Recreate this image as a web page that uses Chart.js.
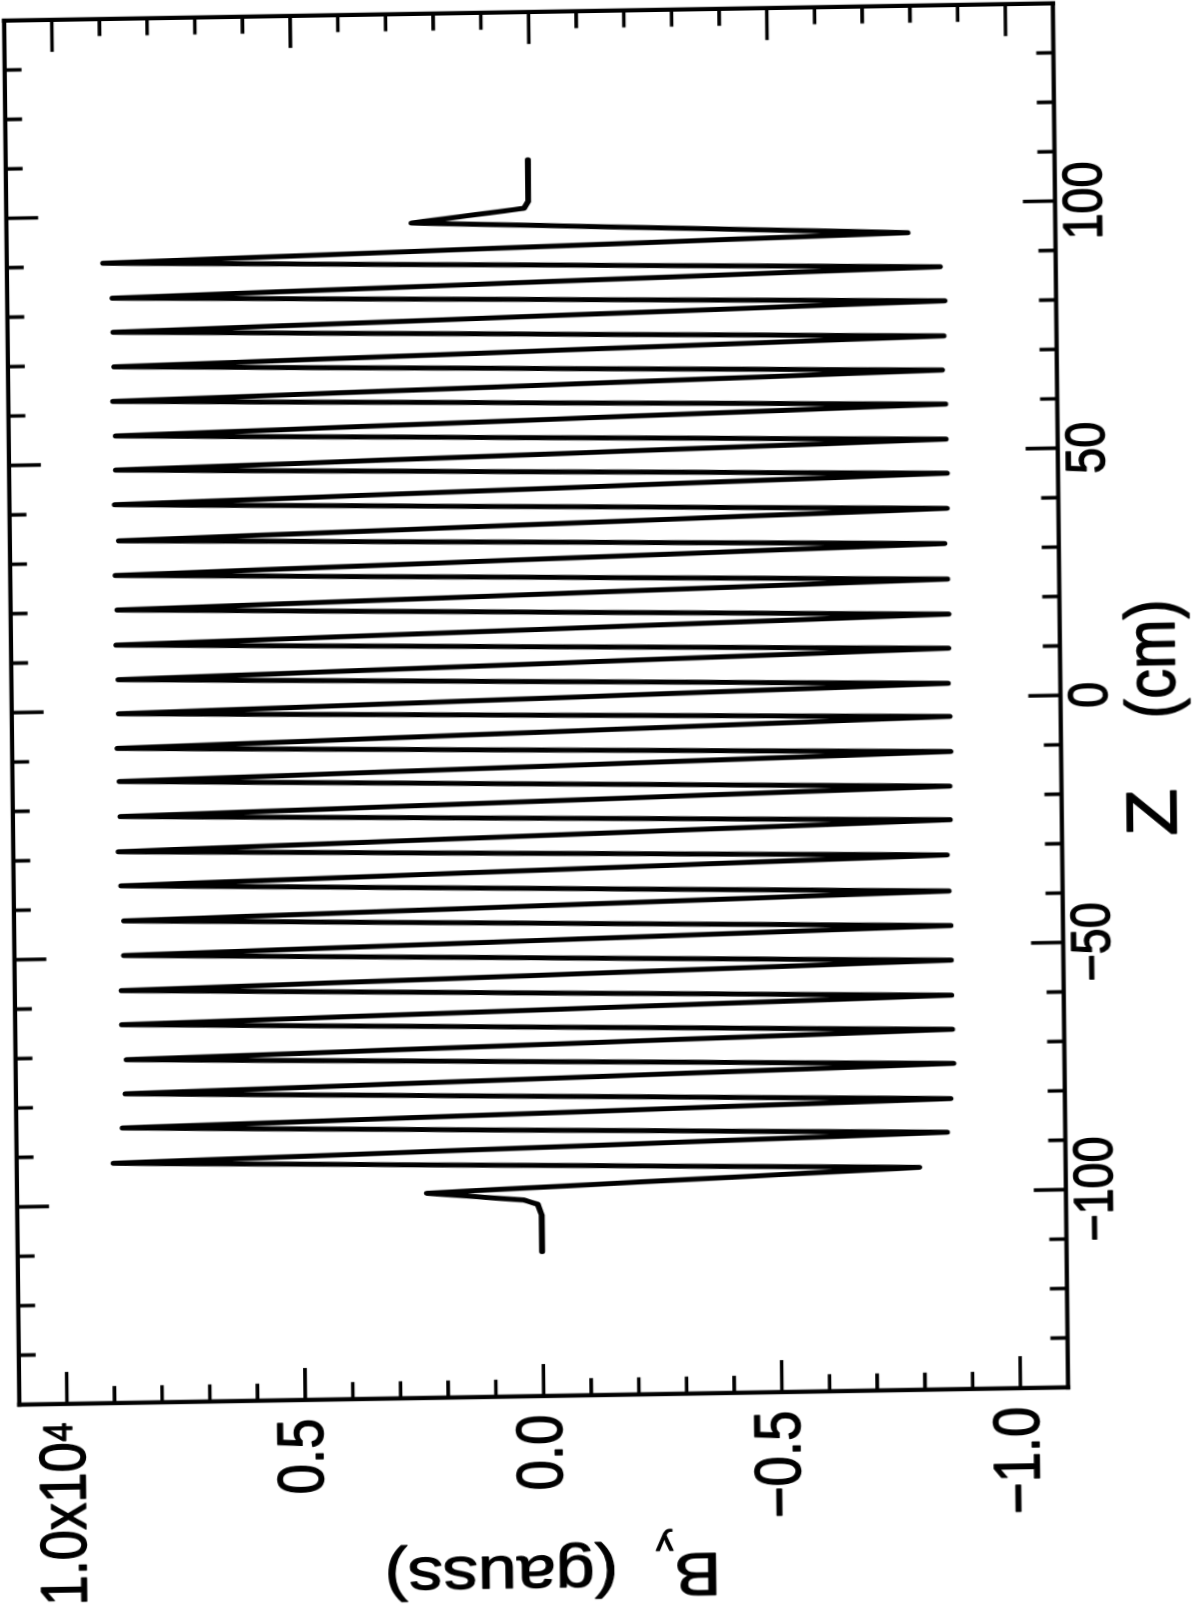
<!DOCTYPE html>
<html><head><meta charset="utf-8">
<script src="https://cdn.jsdelivr.net/npm/chart.js@4.4.1/dist/chart.umd.min.js"></script>
<style>
html,body{margin:0;padding:0;background:#fff;overflow:hidden;width:1196px;height:1623px;}
#wrap{position:absolute;left:0;top:0;width:1909px;height:1196px;transform-origin:0 0;background:#fff;}
canvas{display:block;}
</style></head><body>
<div id="wrap"><canvas id="c" width="1909" height="1196"></canvas></div>
<script>
// ---- data ----
const zCm = [-110.8, -103.4, -101.2, -100.3, -98.6, -95.0, -91.5, -88.0, -84.4, -81.2, -77.5, -74.1, -70.6, -67.2, -63.5, -60.3, -56.6, -53.2, -49.5, -46.2, -42.5, -39.2, -35.4, -31.9, -28.5, -24.8, -21.4, -18.0, -14.3, -11.0, -7.6, -3.9, -0.6, 2.8, 6.3, 9.9, 13.3, 16.8, 20.4, 23.9, 27.4, 31.1, 34.4, 38.2, 41.7, 45.3, 48.7, 52.2, 55.6, 59.3, 62.6, 66.2, 69.6, 73.1, 76.6, 80.2, 83.5, 87.1, 90.6, 94.1, 97.7, 100.3, 101.7, 110.1];
const byGauss = [0, 0, 80, 370, 2400, -7930, 8970, -8520, 8770, -8600, 8700, -8670, 8670, -8650, 8760, -8640, 8760, -8640, 8700, -8640, 8690, -8610, 8740, -8580, 8790, -8650, 8740, -8650, 8750, -8680, 8790, -8670, 8750, -8640, 8750, -8660, 8790, -8670, 8760, -8650, 8790, -8600, 8710, -8660, 8790, -8670, 8760, -8650, 8750, -8650, 8800, -8590, 8770, -8630, 8780, -8660, 8790, -8570, 8980, -7900, 2500, 140, 50, 45];
const zLabelTicks = [-100, -50, 0, 50, 100];
const zTickLabels = ['\u2212100', '\u221250', '0', '50', '100'];
const zAllTicks = [-130, -120, -110, -100, -90, -80, -70, -60, -50, -40, -30, -20, -10, 0, 10, 20, 30, 40, 50, 60, 70, 80, 90, 100, 110, 120, 130];
const byLabelTicks = [-10000, -5000, 0, 5000, 10000];
const byTickLabels = ['\u22121.0', '\u22120.5', '0.0', '0.5', '1.0x10'];
const byTickExponent = ['', '', '', '', '4'];
const byAllTicks = [-10000, -9000, -8000, -7000, -6000, -5000, -4000, -3000, -2000, -1000, 0, 1000, 2000, 3000, 4000, 5000, 6000, 7000, 8000, 9000, 10000];
const zRange = [-140, 140];
const byRange = [-11000, 11000];
const xTitleParts = ['Z', '(cm)'];
const yTitleParts = ['B', 'y', '(gauss)'];

// ---- page geometry (rotated, slightly skewed scan) ----
const SX = 0.85, SKA = 0.011, SKB = 0.0165, XC = 598, YC = 811.5;
document.getElementById('wrap').style.transform =
  `matrix(${-SKA*SX}, ${-SX}, 1, ${-SKB}, ${SKA*(1623-YC)}, ${1623+SKB*XC})`;
const CW = 1909, CH = 1196;
const AREA_L = 228/SX, AREA_R = 1612/SX, AREA_T = 12.8, AREA_B = 1061.6;
const FONT = "'Liberation Sans', Arial, Helvetica, sans-serif";

function inkText(ctx, t, x, y) { ctx.fillText(t, x, y); ctx.strokeText(t, x, y); }

const frameTicks = {
  id: 'frameTicks',
  afterDraw(chart) {
    const {ctx, chartArea: ca, scales: {x, y}} = chart;
    ctx.save();
    ctx.strokeStyle = '#000';
    ctx.fillStyle = '#000';
    ctx.lineCap = 'butt';
    // frame
    ctx.lineWidth = 4.2;
    ctx.beginPath();
    ctx.moveTo(ca.left - 2.1/SX, ca.top); ctx.lineTo(ca.right + 2.1/SX, ca.top);
    ctx.moveTo(ca.left - 2.1/SX, ca.bottom); ctx.lineTo(ca.right + 2.1/SX, ca.bottom);
    ctx.stroke();
    ctx.lineWidth = 4.2/SX;
    ctx.beginPath();
    ctx.moveTo(ca.left, ca.top - 2.1); ctx.lineTo(ca.left, ca.bottom + 2.1);
    ctx.moveTo(ca.right, ca.top - 2.1); ctx.lineTo(ca.right, ca.bottom + 2.1);
    ctx.stroke();
    // inward ticks on all four sides
    ctx.lineWidth = 3.6/SX;
    ctx.beginPath();
    for (const v of zAllTicks) {
      const px = x.getPixelForValue(v);
      const L = zLabelTicks.includes(v) ? 32 : 17;
      ctx.moveTo(px, ca.bottom); ctx.lineTo(px, ca.bottom - L);
      ctx.moveTo(px, ca.top); ctx.lineTo(px, ca.top + L);
    }
    ctx.stroke();
    ctx.lineWidth = 3.6;
    ctx.beginPath();
    for (const v of byAllTicks) {
      const py = y.getPixelForValue(v);
      const L = (byLabelTicks.includes(v) ? 32 : 17)/SX;
      ctx.moveTo(ca.left, py); ctx.lineTo(ca.left + L, py);
      ctx.moveTo(ca.right, py); ctx.lineTo(ca.right - L, py);
    }
    ctx.stroke();

    ctx.lineWidth = 1.3;
    ctx.lineJoin = 'round';
    // Z tick labels
    ctx.font = `55px ${FONT}`;
    ctx.textAlign = 'center';
    ctx.textBaseline = 'middle';
    zLabelTicks.forEach((v, i) => inkText(ctx, zTickLabels[i], x.getPixelForValue(v), ca.bottom + 31));
    // By tick labels (with superscript exponent)
    ctx.textAlign = 'right';
    byLabelTicks.forEach((v, i) => {
      const py = y.getPixelForValue(v);
      let xr = ca.left - 22;
      if (byTickExponent[i]) {
        ctx.font = `40px ${FONT}`;
        ctx.textBaseline = 'alphabetic';
        inkText(ctx, byTickExponent[i], xr, py + 5);
        xr -= ctx.measureText(byTickExponent[i]).width + 1;
      }
      ctx.font = `64px ${FONT}`;
      ctx.textBaseline = 'middle';
      inkText(ctx, byTickLabels[i], xr, py);
    });
    // x axis title
    ctx.textBaseline = 'alphabetic';
    ctx.textAlign = 'left';
    ctx.font = `70px ${FONT}`;
    ctx.save();
    ctx.translate(x.getPixelForValue(-28.8), 1176);
    ctx.scale(1.3, 1);
    inkText(ctx, xTitleParts[0], 0, 0);
    ctx.restore();
    inkText(ctx, xTitleParts[1], x.getPixelForValue(-5.0), 1176);
    // y axis title (rotated, with subscript)
    ctx.translate(80, y.getPixelForValue(-3680));
    ctx.rotate(-Math.PI/2);
    ctx.font = `70px ${FONT}`;
    inkText(ctx, yTitleParts[0], 0, 0);
    const wB = ctx.measureText(yTitleParts[0]).width;
    ctx.font = `34px ${FONT}`;
    inkText(ctx, yTitleParts[1], wB + 1, 22);
    ctx.font = `70px ${FONT}`;
    inkText(ctx, yTitleParts[2], 103, 0);
    ctx.restore();
  }
};

new Chart(document.getElementById('c'), {
  type: 'line',
  data: {
    datasets: [{
      data: zCm.map((z, i) => ({x: z, y: byGauss[i]})),
      borderColor: '#000',
      borderWidth: 5/SX,
      borderJoinStyle: 'round',
      borderCapStyle: 'round',
      pointRadius: 0,
      tension: 0,
      fill: false
    }]
  },
  options: {
    responsive: false,
    animation: false,
    events: [],
    layout: {padding: {left: 0, top: AREA_T, right: CW - AREA_R, bottom: 0}},
    plugins: {legend: {display: false}, tooltip: {enabled: false}, title: {display: false}},
    scales: {
      x: {
        type: 'linear', position: 'bottom', min: zRange[0], max: zRange[1],
        grid: {display: false}, border: {display: false},
        ticks: {display: false},
        afterBuildTicks: s => { s.ticks = zLabelTicks.map(v => ({value: v})); },
        afterFit: s => { s.height = CH - AREA_B; s.paddingLeft = s.paddingRight = s.paddingTop = s.paddingBottom = 0; }
      },
      y: {
        type: 'linear', position: 'left', min: byRange[0], max: byRange[1],
        grid: {display: false}, border: {display: false},
        ticks: {display: false},
        afterBuildTicks: s => { s.ticks = byLabelTicks.map(v => ({value: v})); },
        afterFit: s => { s.width = AREA_L; s.paddingLeft = s.paddingRight = s.paddingTop = s.paddingBottom = 0; }
      }
    }
  },
  plugins: [frameTicks]
});
</script>
</body></html>
